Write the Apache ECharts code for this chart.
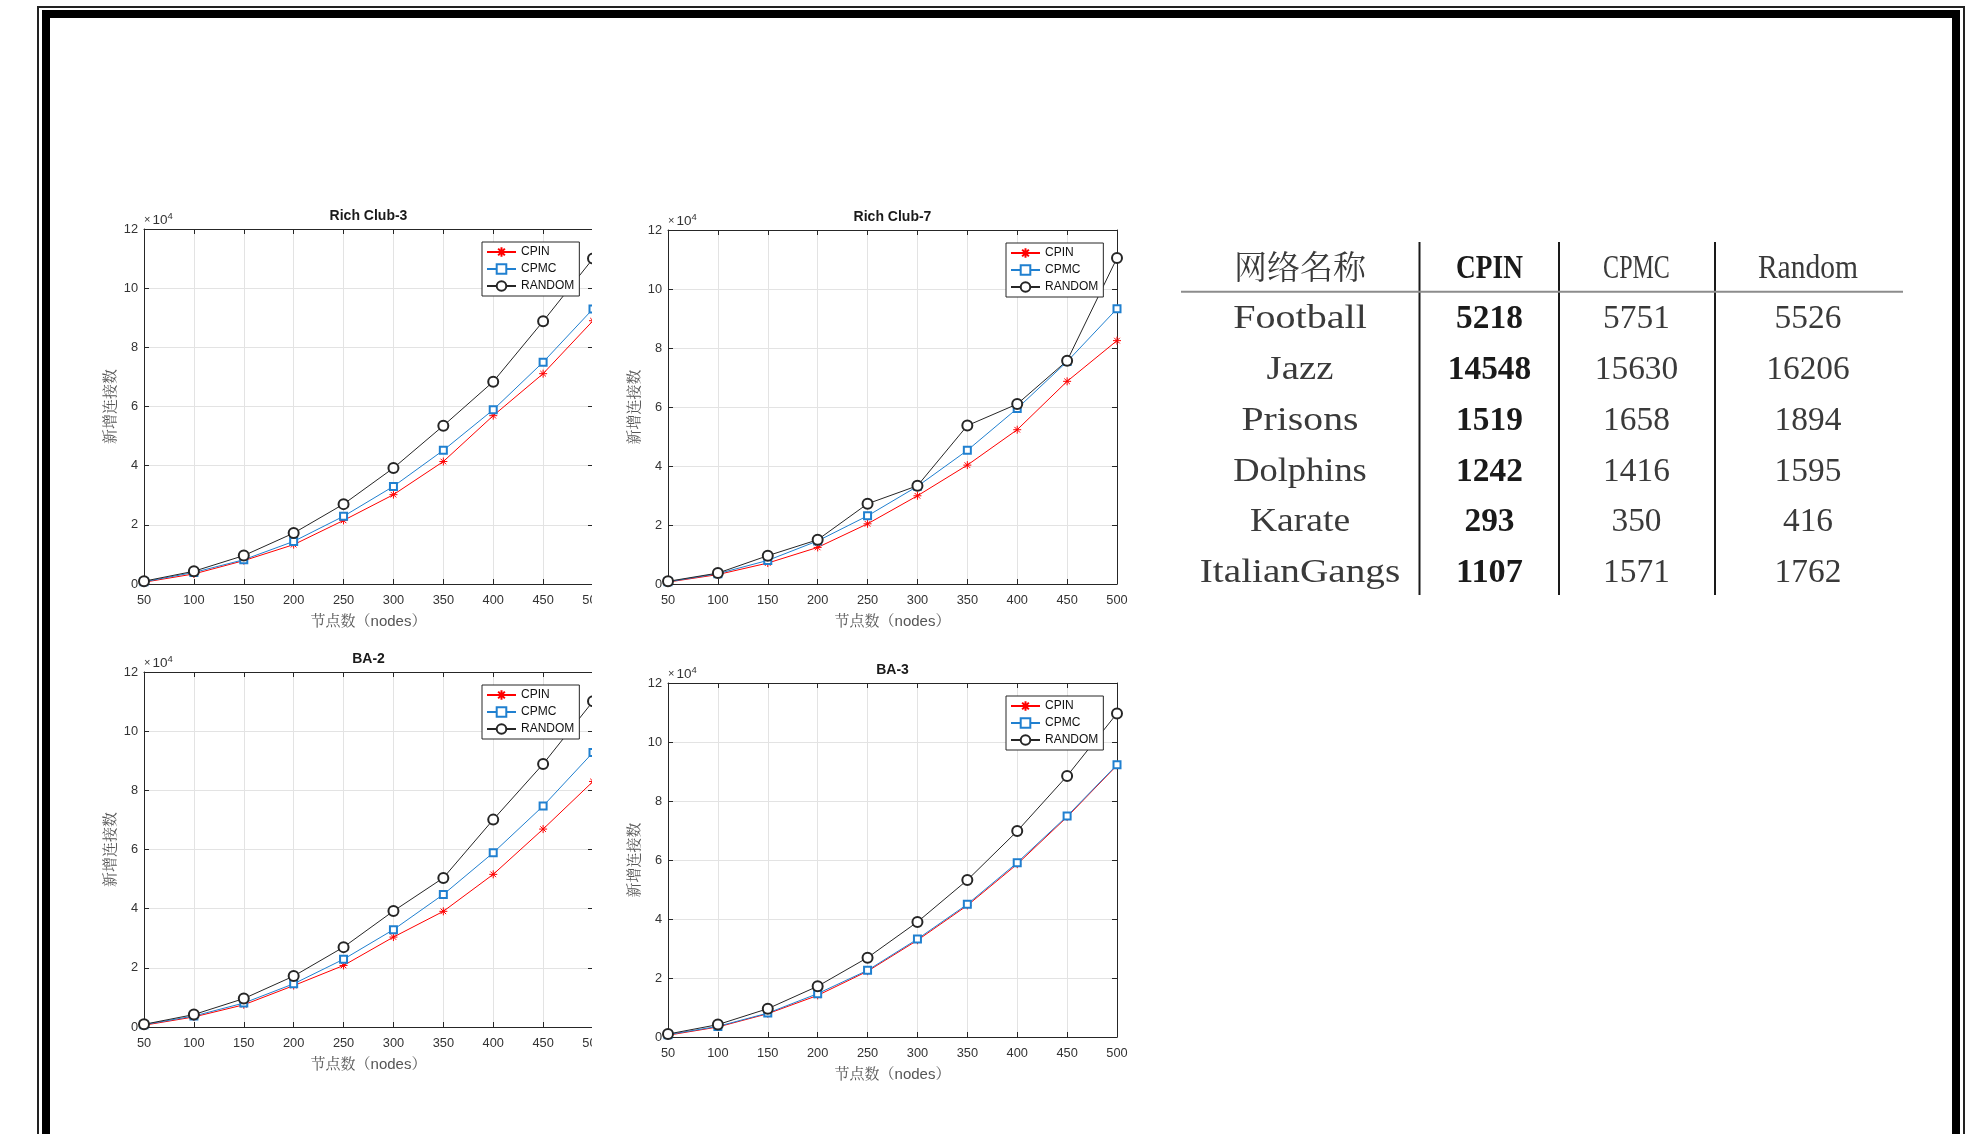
<!DOCTYPE html>
<html><head><meta charset="utf-8">
<script src="https://cdn.jsdelivr.net/npm/echarts@6/dist/echarts.min.js"></script>
<style>html,body{margin:0;padding:0;background:#fff}#c{width:1983px;height:1134px}</style>
</head><body><div id="c"></div>
<script>
// ---------- data ----------
const nodes = [50, 100, 150, 200, 250, 300, 350, 400, 450, 500];
const seriesNames = ['CPIN', 'CPMC', 'RANDOM'];
const chartTitles = ['Rich Club-3', 'Rich Club-7', 'BA-2', 'BA-3'];
const xAxisTitle = '节点数（nodes）';
const yAxisTitle = '新增连接数';

const rc3_cpin = [600, 3400, 7900, 13300, 21500, 30200, 41400, 56900, 71100, 89000];
const rc3_cpmc = [750, 3900, 8200, 14400, 22900, 33000, 45200, 58900, 75000, 93000];
const rc3_rand = [950, 4300, 9600, 17200, 27000, 39200, 53500, 68400, 88800, 110000];

const rc7_cpin = [650, 3200, 7100, 12400, 20400, 29900, 40300, 52300, 68700, 82500];
const rc7_cpmc = [750, 3500, 8000, 14600, 23100, 33100, 45300, 59500, 75400, 93300];
const rc7_rand = [900, 3700, 9600, 15000, 27200, 33300, 53700, 61000, 75700, 110500];

const ba2_cpin = [600, 3400, 7500, 14000, 20800, 30400, 39100, 51600, 66900, 83000];
const ba2_cpmc = [800, 3700, 8100, 14600, 22900, 32900, 44800, 58900, 74700, 92800];
const ba2_rand = [900, 4200, 9600, 17200, 27000, 39200, 50400, 70100, 88900, 110100];

const ba3_cpin = [600, 3400, 7900, 14100, 22300, 32800, 44600, 58600, 74600, 92100];
const ba3_cpmc = [800, 3600, 8100, 14700, 22600, 33200, 45000, 59100, 74900, 92300];
const ba3_rand = [1000, 4200, 9600, 17200, 26900, 39000, 53200, 69800, 88500, 109700];

const tableHeader = ['网络名称', 'CPIN', 'CPMC', 'Random'];
const networks = ['Football', 'Jazz', 'Prisons', 'Dolphins', 'Karate', 'ItalianGangs'];
const tbl_cpin = [5218, 14548, 1519, 1242, 293, 1107];
const tbl_cpmc = [5751, 15630, 1658, 1416, 350, 1571];
const tbl_random = [5526, 16206, 1894, 1595, 416, 1762];

// ---------- layout / style ----------
const chartData = [
  [rc3_cpin, rc3_cpmc, rc3_rand],
  [rc7_cpin, rc7_cpmc, rc7_rand],
  [ba2_cpin, ba2_cpmc, ba2_rand],
  [ba3_cpin, ba3_cpmc, ba3_rand]
];
const layouts = [
  {left: 144, top: 229, width: 449, height: 355},
  {left: 668, top: 230, width: 449, height: 354},
  {left: 144, top: 672, width: 449, height: 355},
  {left: 668, top: 683, width: 449, height: 354}
];
const FONT = "'Liberation Sans', 'Noto Serif CJK SC', 'Noto Sans CJK SC', sans-serif";
const AX = '#262626';
const GRIDC = '#e3e3e3';
const colors = ['#ff0000', '#2080d0', '#262626'];
const ASTER = 'path://M4,0L4,8M0,4L8,4M1.2,1.2L6.8,6.8M6.8,1.2L1.2,6.8';
const symbols = [ASTER, 'emptyRect', 'emptyCircle'];
const symSizes = [8, 7, 10];

const grids = [], xAxes = [], yAxes = [], series = [], legends = [];
layouts.forEach((L, i) => {
  grids.push({left: L.left, top: L.top, width: L.width, height: L.height, containLabel: false});
  const xBase = {
    gridIndex: i, type: 'value', min: 50, max: 500, interval: 50,
    axisLine: {show: true, onZero: false, lineStyle: {color: AX, width: 1}},
    axisTick: {show: true, inside: true, length: 5, lineStyle: {color: AX}}
  };
  xAxes.push(Object.assign({}, xBase, {
    position: 'bottom',
    axisLabel: {show: true, fontSize: 12.8, color: '#333', fontFamily: FONT, margin: 10},
    splitLine: {show: true, lineStyle: {color: GRIDC, width: 1}},
    name: xAxisTitle, nameLocation: 'middle', nameGap: 30,
    nameTextStyle: {fontSize: 15, color: '#555', fontFamily: FONT}
  }));
  xAxes.push(Object.assign({}, xBase, {
    position: 'top',
    axisLabel: {show: false}, splitLine: {show: false},
    name: chartTitles[i], nameLocation: 'middle', nameGap: 6,
    nameTextStyle: {fontSize: 14, fontWeight: 'bold', color: '#1a1a1a', fontFamily: FONT}
  }));
  const yBase = {
    gridIndex: i, type: 'value', min: 0, max: 120000, interval: 20000,
    axisLine: {show: true, onZero: false, lineStyle: {color: AX, width: 1}},
    axisTick: {show: true, inside: true, length: 5, lineStyle: {color: AX}}
  };
  yAxes.push(Object.assign({}, yBase, {
    position: 'left',
    axisLabel: {show: true, fontSize: 12.8, color: '#333', fontFamily: FONT, margin: 6,
                formatter: v => String(v / 10000)},
    splitLine: {show: true, lineStyle: {color: GRIDC, width: 1}},
    name: yAxisTitle, nameLocation: 'middle', nameGap: 26,
    nameTextStyle: {fontSize: 15, color: '#555', fontFamily: FONT}
  }));
  yAxes.push({
    gridIndex: i, type: 'value', position: 'left', min: 0, max: 1,
    axisLine: {show: false}, axisTick: {show: false}, axisLabel: {show: false}, splitLine: {show: false},
    name: '{x|×}{a|10}{b|4}', nameLocation: 'end', nameGap: 1,
    nameTextStyle: {align: 'left', verticalAlign: 'bottom', fontFamily: FONT, color: '#333',
      rich: {x: {fontSize: 11, fontFamily: FONT, color: '#333', lineHeight: 16, padding: [0, 2, 0, 0]},
             a: {fontSize: 13.5, fontFamily: FONT, color: '#333', lineHeight: 16},
             b: {fontSize: 9.5, fontFamily: FONT, color: '#333', verticalAlign: 'top', lineHeight: 16}}}
  });
  yAxes.push(Object.assign({}, yBase, {
    position: 'right', axisLabel: {show: false}, splitLine: {show: false}
  }));
  chartData[i].forEach((vals, k) => {
    series.push({
      type: 'line', name: seriesNames[k], xAxisIndex: i * 2, yAxisIndex: i * 3,
      data: nodes.map((n, j) => [n, vals[j]]),
      symbol: symbols[k], symbolSize: symSizes[k], showAllSymbol: true, clip: false,
      lineStyle: {color: colors[k], width: 1},
      itemStyle: {color: colors[k], borderColor: colors[k], borderWidth: 1},
      emphasis: {disabled: true}
    });
  });
  legends.push({
    left: L.left + L.width - 111, top: L.top + 13, orient: 'vertical',
    padding: [4, 5, 4, 4], itemWidth: 29, itemHeight: 12, itemGap: 5,
    backgroundColor: '#fff', borderColor: AX, borderWidth: 1, borderRadius: 0,
    textStyle: {fontSize: 12, color: '#111', fontFamily: FONT, lineHeight: 12},
    selectedMode: false, data: seriesNames
  });
});

// ---------- table graphics ----------
const elements = [];
// frame
elements.push({type: 'polyline', z: 100, shape: {points: [[38, 1140], [38, 7], [1964, 7], [1964, 1140]]},
  style: {stroke: '#222', lineWidth: 2, fill: null}});
elements.push({type: 'polyline', z: 100, shape: {points: [[46, 1140], [46, 14], [1956, 14], [1956, 1140]]},
  style: {stroke: '#000', lineWidth: 8, fill: null}});
// crop of the left panels
elements.push({type: 'rect', z: 100, shape: {x: 592, y: 200, width: 28, height: 900},
  style: {fill: '#fff', stroke: null}});

const cv = document.createElement('canvas').getContext('2d');
function measure(t, font) { cv.font = font; return cv.measureText(t).width; }
const TF = 33, ADV = 16.7;
const colX = [1300, 1489.5, 1636.5, 1808];
const headY = 266.7;
const rowY0 = 317.3, rowStep = 50.75;
const LATIN_DY = 2.5;
function cell(text, x, y, bold, cjk) {
  const fam = cjk ? "'Noto Serif CJK SC', 'Noto Sans CJK SC'" : "'Liberation Serif'";
  const weight = bold ? 'bold' : 'normal';
  let sx = 1;
  if (!cjk) {
    const w = measure(text, weight + ' ' + TF + 'px ' + fam);
    sx = text.length * ADV / w;
  }
  elements.push({type: 'text', z: 100, x: x, y: y + (cjk ? 0 : LATIN_DY), scaleX: sx, scaleY: 1,
    style: {text: text, fontSize: TF, fontFamily: fam, fontWeight: weight,
      fill: bold ? '#1a1a1a' : '#3a3a3a', align: 'center', verticalAlign: 'middle'}});
}
tableHeader.forEach((h, c) => cell(h, colX[c], headY, c === 1, c === 0));
networks.forEach((nm, r) => {
  const y = rowY0 + r * rowStep;
  cell(nm, colX[0], y, false, false);
  cell(String(tbl_cpin[r]), colX[1], y, true, false);
  cell(String(tbl_cpmc[r]), colX[2], y, false, false);
  cell(String(tbl_random[r]), colX[3], y, false, false);
});
[1419.5, 1559, 1715].forEach(x => elements.push({type: 'line', z: 100,
  shape: {x1: x, y1: 242, x2: x, y2: 595}, style: {stroke: '#1a1a1a', lineWidth: 2}}));
elements.push({type: 'line', z: 100, shape: {x1: 1181, y1: 291.7, x2: 1903, y2: 291.7},
  style: {stroke: '#8c8c8c', lineWidth: 2}});

const chart = echarts.init(document.getElementById('c'), null, {renderer: 'canvas'});
chart.setOption({
  backgroundColor: '#fff',
  animation: false,
  grid: grids, xAxis: xAxes, yAxis: yAxes, series: series, legend: legends,
  graphic: {elements: elements}
});
</script></body></html>
